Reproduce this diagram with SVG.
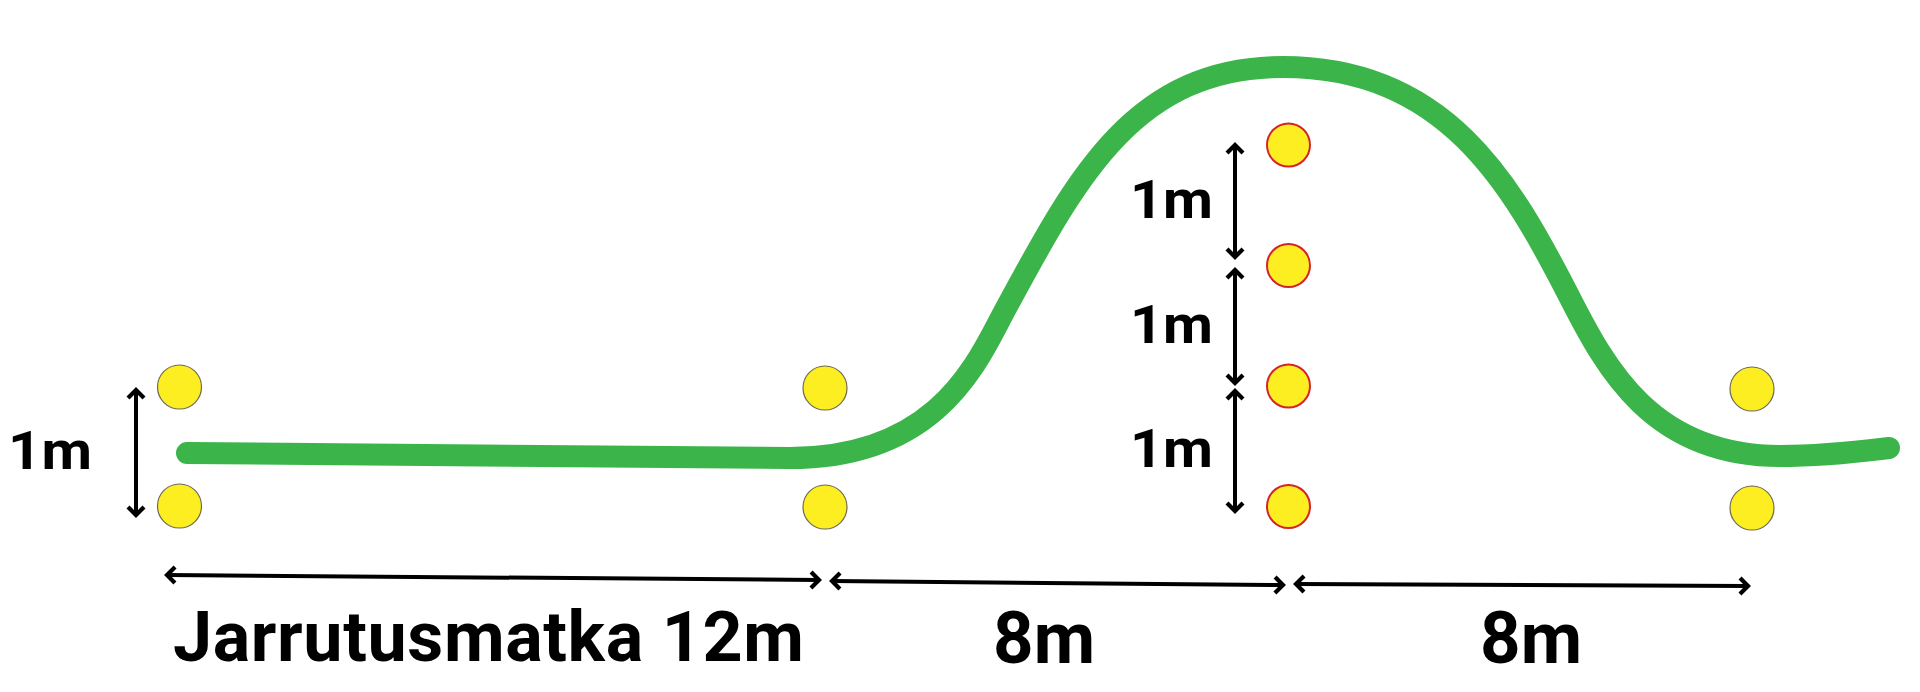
<svg xmlns="http://www.w3.org/2000/svg" width="1920" height="692" viewBox="0 0 1920 692">
<style>
.cone{fill:#fdee21;stroke:#6e6a50;stroke-width:1.2}
.cone-red{fill:#fdee21;stroke:#d4232b;stroke-width:2}
.track{fill:none;stroke:#3bb54a;stroke-width:22;stroke-linecap:round;stroke-linejoin:round}
.dim{fill:none;stroke:#000;stroke-width:4;marker-start:url(#chev);marker-end:url(#chev)}
.lbl{font-family:Roboto,"Open Sans","DejaVu Sans",sans-serif;font-weight:700;fill:#000}
</style>
<defs>
<marker id="chev" markerUnits="userSpaceOnUse" markerWidth="24" markerHeight="24" viewBox="-14 -12 18 24" refX="0" refY="0" orient="auto-start-reverse">
<path d="M-8,-8 L0,0 L-8,8" fill="none" stroke="#000" stroke-width="4.2" stroke-linejoin="miter"/>
</marker>
</defs>
<rect width="1920" height="692" fill="#fff"/>
<g id="track">
<path class="track" d="M187,453 L790,458 C940,458 978.8,358.4 1005,310 C1076.4,178 1134,67 1283,67 C1445,67 1510.85,182.3 1570,298 C1605.5,367.4 1652,456 1780,456 C1825,456 1860,451.5 1889,448"/>
</g>
<g id="cones-start">
<circle class="cone" cx="179.5" cy="387" r="22"/>
<circle class="cone" cx="179.5" cy="506" r="22"/>
</g>
<g id="cones-brake">
<circle class="cone" cx="825" cy="388" r="22"/>
<circle class="cone" cx="825" cy="507" r="22"/>
</g>
<g id="cones-middle">
<circle class="cone-red" cx="1288.5" cy="145" r="21.5"/>
<circle class="cone-red" cx="1288.5" cy="265.5" r="21.5"/>
<circle class="cone-red" cx="1288.5" cy="386" r="21.5"/>
<circle class="cone-red" cx="1288.5" cy="506.5" r="21.5"/>
</g>
<g id="cones-end">
<circle class="cone" cx="1752" cy="389" r="22"/>
<circle class="cone" cx="1752" cy="508" r="22"/>
</g>
<g id="connectors">
<path class="dim" d="M136,390 L136,515"/>
<path class="dim" d="M1235,145 L1235,257"/>
<path class="dim" d="M1235,270 L1235,383"/>
<path class="dim" d="M1235,391 L1235,511"/>
<path class="dim" d="M167,575 L819,580"/>
<path class="dim" d="M832,581 L1283,585"/>
<path class="dim" d="M1296,584 L1748,586"/>
</g>
<g id="labels">
<text class="lbl" x="8" y="469" font-size="54" textLength="84" lengthAdjust="spacingAndGlyphs">1m</text>
<text class="lbl" x="1130" y="218" font-size="54" textLength="83" lengthAdjust="spacingAndGlyphs">1m</text>
<text class="lbl" x="1130" y="343" font-size="54" textLength="83" lengthAdjust="spacingAndGlyphs">1m</text>
<text class="lbl" x="1130" y="467" font-size="54" textLength="83" lengthAdjust="spacingAndGlyphs">1m</text>
<text class="lbl" x="173" y="661" font-size="70" textLength="631">Jarrutusmatka 12m</text>
<text class="lbl" x="993" y="663" font-size="73" textLength="102" lengthAdjust="spacingAndGlyphs">8m</text>
<text class="lbl" x="1480" y="663" font-size="73" textLength="102" lengthAdjust="spacingAndGlyphs">8m</text>
</g>
</svg>
